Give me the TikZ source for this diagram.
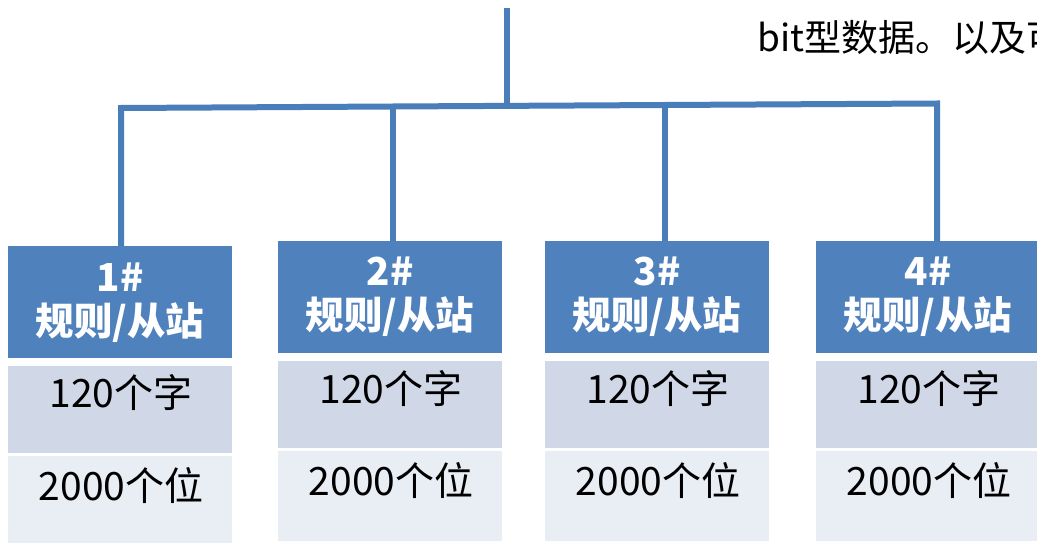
\documentclass[tikz,border=0pt]{standalone}
\usepackage{fontspec}
\setmainfont{Noto Sans CJK SC}
\definecolor{hdr}{HTML}{4F81BD}
\definecolor{rowa}{HTML}{D0D8E8}
\definecolor{rowb}{HTML}{E9EDF4}
\definecolor{wire}{HTML}{4A7EBB}
\tikzset{
  box/.style={rectangle, inner sep=0pt, outer sep=0pt, anchor=north west, minimum width=224pt},
  hbox/.style={box, fill=hdr, minimum height=112pt},
  abox/.style={box, fill=rowa, minimum height=87pt},
  bbox/.style={box, fill=rowb, minimum height=90pt},
  htext/.style={anchor=base, inner sep=0pt, text=white, font=\fontsize{38.5}{42}\selectfont\bfseries},
  rtext/.style={anchor=base, inner sep=0pt, text=black, font=\fontsize{39}{44}\selectfont},
  wireline/.style={draw=wire, line width=6pt, line join=miter}
}
\begin{document}
\begin{tikzpicture}[x=1pt,y=-1pt]
\useasboundingbox (0,0) rectangle (1037,543);
\clip (0,0) rectangle (1037,543);
\fill[white] (0,0) rectangle (1037,543);

% top text
\node[anchor=base west, inner sep=0pt, font=\fontsize{37}{42}\selectfont] (top) at (757,52) {bit型数据。以及可};

% boxes
\node[hbox] (h1) at (8,246) {};
\node[abox] (a1) at (8,366) {};
\node[bbox] (b1) at (8,456) {};
\node[hbox] (h2) at (278,241) {};
\node[abox] (a2) at (278,361) {};
\node[bbox] (b2) at (278,451) {};
\node[hbox] (h3) at (545,241) {};
\node[abox] (a3) at (545,361) {};
\node[bbox] (b3) at (545,451) {};
\node[hbox] (h4) at (816,241) {};
\node[abox] (a4) at (816,361) {};
\node[bbox] (b4) at (816,451) {};

% texts
\node[htext] (t1a) at (120,291) {1\#};
\node[htext] (t1b) at (120,335) {规则/从站};
\node[rtext] (r1a) at (121,407) {120个字};
\node[rtext] (r1b) at (121,500) {2000个位};

\node[htext] (t2a) at (390,285) {2\#};
\node[htext] (t2b) at (390,329) {规则/从站};
\node[rtext] (r2a) at (391,403) {120个字};
\node[rtext] (r2b) at (391,495) {2000个位};

\node[htext] (t3a) at (657,285) {3\#};
\node[htext] (t3b) at (657,329) {规则/从站};
\node[rtext] (r3a) at (658,403) {120个字};
\node[rtext] (r3b) at (658,495) {2000个位};

\node[htext] (t4a) at (928,285) {4\#};
\node[htext] (t4b) at (928,329) {规则/从站};
\node[rtext] (r4a) at (929,403) {120个字};
\node[rtext] (r4b) at (929,495) {2000个位};

% connectors
\coordinate (root) at (507,8);
\coordinate (j1) at (121,108);
\coordinate (j2) at (393,106.5);
\coordinate (jr) at (507,105.9);
\coordinate (j3) at (665,105);
\coordinate (j4) at (937,103.5);
\coordinate (d1) at (121,246);
\coordinate (d2) at (393,241);
\coordinate (d3) at (665,241);
\coordinate (d4) at (937,241);

\draw[wireline] (d1) -- (j1) -- (j4) -- (d4);
\draw[wireline] (j2) -- (d2);
\draw[wireline] (j3) -- (d3);
\draw[wireline] (root) -- (jr);
\end{tikzpicture}
\end{document}
